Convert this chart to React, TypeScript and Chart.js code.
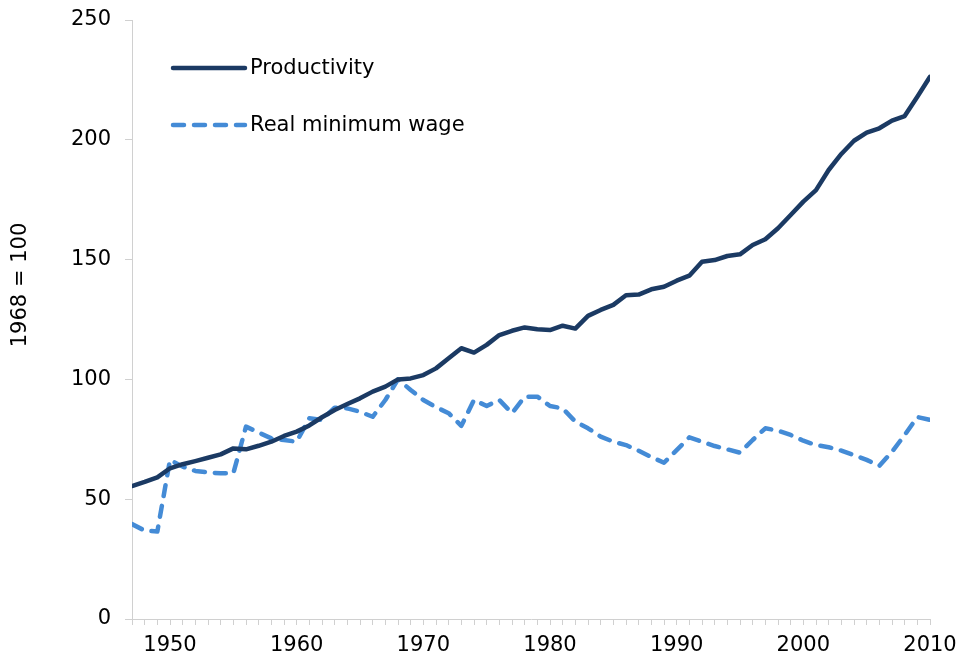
import React, { useEffect, useRef } from "react";
import { Chart, registerables } from "chart.js";

Chart.register(...registerables);

const years: number[] = [];
for (let y = 1947; y <= 2010; y++) years.push(y);

const productivity = [
  55.5, 57.2, 59.1, 62.9, 64.6, 65.9, 67.3, 68.7, 71.2, 70.8,
  72.3, 74.0, 76.4, 78.2, 80.8, 84.2, 87.2, 89.7, 92.1, 94.9,
  97.0, 100.0, 100.4, 101.8, 104.6, 108.8, 113.0, 111.2, 114.4, 118.5,
  120.3, 121.7, 120.9, 120.6, 122.4, 121.2, 126.5, 129.0, 131.1, 135.1,
  135.4, 137.6, 138.7, 141.2, 143.3, 149.1, 149.8, 151.5, 152.2, 156.1,
  158.5, 163.1, 168.6, 174.2, 179.0, 187.4, 194.1, 199.6, 203.0, 204.8,
  208.0, 209.9, 218.0, 226.3,
];

const minimumWage = [
  39.6, 36.9, 36.5, 66.4, 63.6, 61.8, 61.2, 60.8, 60.8, 80.3,
  77.8, 75.4, 74.7, 74.0, 83.8, 83.1, 88.2, 87.9, 86.5, 84.4,
  91.4, 100.0, 95.6, 91.4, 88.4, 85.9, 80.6, 91.4, 88.9, 91.4,
  85.9, 92.8, 92.8, 88.9, 87.9, 82.4, 79.6, 76.1, 74.0, 72.6,
  70.2, 67.6, 65.2, 70.5, 75.8, 74.0, 72.2, 70.8, 69.4, 74.7,
  79.6, 78.6, 76.8, 74.4, 72.6, 71.7, 70.3, 68.4, 66.4, 63.9,
  69.8, 76.8, 84.3, 83.1,
];

const yTicks = [0, 50, 100, 150, 200, 250];
const seriesLabels = ["Productivity", "Real minimum wage"];
const yTitle = "1968 = 100";

const FONT = "'DejaVu Sans', Verdana, sans-serif";
const FS = 21;

export default function App() {
  const ref = useRef<HTMLCanvasElement | null>(null);

  useEffect(() => {
    if (!ref.current) return;

    const legendPlugin = {
      id: "insideLegend",
      afterDraw(chart: any) {
        const ctx = chart.ctx;
        const area = chart.chartArea;
        ctx.save();
        chart.data.datasets.forEach((ds: any, i: number) => {
          const y = area.top + 48 + i * 57;
          const x0 = area.left + 41;
          const x1 = area.left + 113;
          ctx.beginPath();
          ctx.lineWidth = ds.borderWidth;
          ctx.strokeStyle = ds.borderColor;
          ctx.lineCap = "round";
          ctx.setLineDash(ds.borderDash || []);
          ctx.moveTo(x0, y);
          ctx.lineTo(x1, y);
          ctx.stroke();
          ctx.setLineDash([]);
          ctx.fillStyle = "#000";
          ctx.font = `${FS}px ${FONT}`;
          ctx.textAlign = "left";
          ctx.textBaseline = "middle";
          ctx.fillText(ds.label, x1 + 5, y + 1);
        });
        ctx.restore();
      },
    };

    const yTitlePlugin = {
      id: "yTitle",
      afterDraw(chart: any) {
        const ctx = chart.ctx;
        const area = chart.chartArea;
        ctx.save();
        ctx.translate(21, area.top + 265);
        ctx.rotate(-Math.PI / 2);
        ctx.font = `${FS}px ${FONT}`;
        ctx.fillStyle = "#000";
        ctx.textAlign = "center";
        ctx.textBaseline = "middle";
        ctx.fillText(yTitle, 0, 0);
        ctx.restore();
      },
    };

    const chart = new Chart(ref.current, {
      type: "line",
      data: {
        datasets: [
          {
            label: seriesLabels[0],
            data: years.map((y, i) => ({ x: y, y: productivity[i] })),
            borderColor: "#1B3A63",
            borderWidth: 4.5,
            pointRadius: 0,
            tension: 0,
            fill: false,
            borderCapStyle: "round",
            borderJoinStyle: "round",
          },
          {
            label: seriesLabels[1],
            data: years.map((y, i) => ({ x: y, y: minimumWage[i] })),
            borderColor: "#448BD6",
            borderWidth: 4.5,
            borderDash: [11, 10],
            pointRadius: 0,
            tension: 0,
            fill: false,
            borderCapStyle: "round",
            borderJoinStyle: "round",
          },
        ],
      },
      options: {
        animation: false,
        responsive: false,
        maintainAspectRatio: false,
        layout: { padding: { top: 20, right: 28, bottom: 0, left: 0 } },
        plugins: {
          legend: { display: false },
          tooltip: { enabled: false },
        },
        scales: {
          x: {
            type: "linear",
            min: 1947,
            max: 2010,
            afterBuildTicks: (scale: any) => {
              scale.ticks = years.map((v) => ({ value: v }));
            },
            afterFit: (scale: any) => {
              scale.height = 40;
              scale.paddingLeft = 0;
              scale.paddingRight = 0;
            },
            grid: {
              drawOnChartArea: false,
              drawTicks: true,
              tickLength: 6,
              color: "#d0d0d0",
            },
            border: { display: true, color: "#d0d0d0", width: 1 },
            ticks: {
              autoSkip: false,
              maxRotation: 0,
              padding: 8,
              color: "#000",
              font: { family: FONT, size: FS },
              callback: (v: any) => (Number(v) % 10 === 0 ? String(v) : ""),
            },
          },
          y: {
            min: 0,
            max: 250,
            afterBuildTicks: (scale: any) => {
              scale.ticks = yTicks.map((v) => ({ value: v }));
            },
            afterFit: (scale: any) => {
              scale.width = 132;
              scale.paddingTop = 0;
              scale.paddingBottom = 0;
            },
            grid: {
              drawOnChartArea: false,
              drawTicks: true,
              tickLength: 7,
              color: "#d0d0d0",
            },
            border: { display: true, color: "#d0d0d0", width: 1 },
            ticks: {
              padding: 14,
              color: "#000",
              font: { family: FONT, size: FS },
            },
          },
        },
      },
      plugins: [legendPlugin, yTitlePlugin],
    } as any);

    return () => chart.destroy();
  }, []);

  return (
    <div style={{ position: "fixed", left: 0, top: 0, width: 958, height: 659, background: "#fff" }}>
      <canvas ref={ref} width={958} height={659} style={{ width: 958, height: 659, display: "block" }} />
    </div>
  );
}
